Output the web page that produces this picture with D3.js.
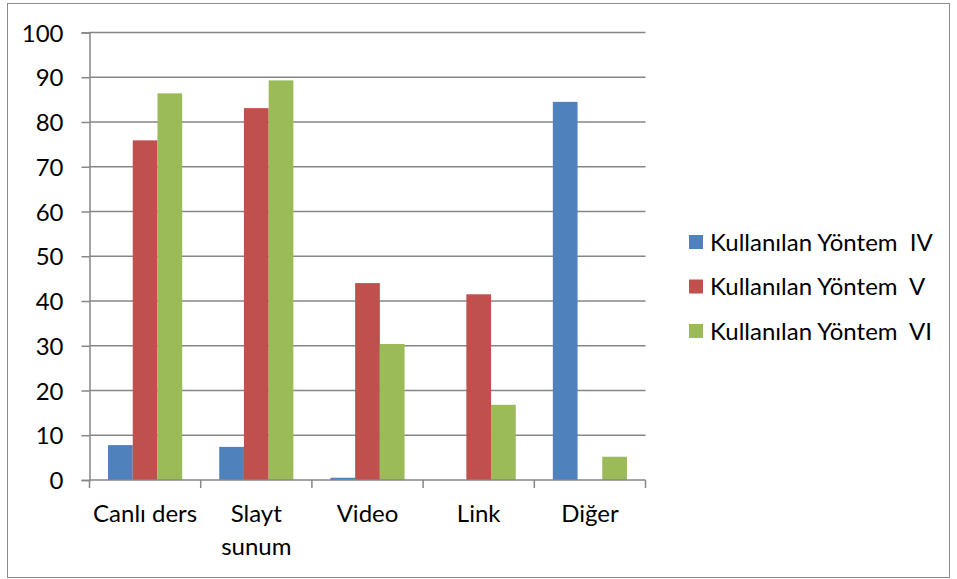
<!DOCTYPE html>
<html>
<head>
<meta charset="utf-8">
<script src="https://cdn.jsdelivr.net/npm/d3@7"></script>
<style>
  body { margin: 0; background: #fff; }
  svg text { font-family: Lato, "Open Sans", sans-serif; fill: #000; }
</style>
</head>
<body>
<script>
// Chart data
var categories = ["Canlı ders", "Slayt sunum", "Video", "Link", "Diğer"];
var seriesNames = ["Kullanılan Yöntem  IV", "Kullanılan Yöntem  V", "Kullanılan Yöntem  VI"];
var seriesIV = [7.8, 7.4, 0.5, 0, 84.5];
var seriesV = [75.9, 83.1, 44.0, 41.5, 0];
var seriesVI = [86.4, 89.3, 30.4, 16.8, 5.2];
var yTicks = [0, 10, 20, 30, 40, 50, 60, 70, 80, 90, 100];

var colors = ["#4F81BD", "#C0504D", "#9BBB59"];
var allSeries = [seriesIV, seriesV, seriesVI];
var fontSize = "24px";

// Set the dimensions of the canvas / graph
var W = 957, H = 579;
var margin = {top: 32.5, left: 89.5},
    width = 556,
    height = 447.5;

var svg = d3.select("body")
    .append("svg")
        .attr("width", W)
        .attr("height", H);

// outer chart border
svg.append("rect")
    .attr("x", 7.5)
    .attr("y", 3.5)
    .attr("width", 942)
    .attr("height", 574)
    .attr("fill", "#fff")
    .attr("stroke", "#8c8c8c")
    .attr("stroke-width", 1);

var g = svg.append("g")
    .attr("transform", "translate(" + margin.left + "," + margin.top + ")");

// Set the ranges
var x0 = d3.scaleBand().domain(categories).range([0, width]).paddingInner(0).paddingOuter(0);
var x1 = d3.scaleBand().domain([0, 1, 2]).range([0, x0.bandwidth()]).paddingInner(0).paddingOuter(0.75);
var y = d3.scaleLinear().domain([0, 100]).range([height, 0]);

// gridlines
g.selectAll(".grid")
    .data(yTicks.filter(function(d) { return d > 0; }))
    .enter().append("line")
    .attr("class", "grid")
    .attr("x1", 0)
    .attr("x2", width)
    .attr("y1", function(d) { return y(d); })
    .attr("y2", function(d) { return y(d); })
    .attr("stroke", "#868686")
    .attr("stroke-width", 1.5);

// Y axis
var yAxis = d3.axisLeft(y).tickValues(yTicks).tickSize(8).tickPadding(18);
var yG = g.append("g").call(yAxis);
yG.attr("font-size", null).attr("font-family", null);
yG.select(".domain").attr("stroke", "#868686").attr("stroke-width", 1.5);
yG.selectAll(".tick line").attr("stroke", "#868686").attr("stroke-width", 1.5);
yG.selectAll(".tick text").style("font-size", fontSize).attr("dy", "0.36em");

// bars
categories.forEach(function(cat, ci) {
    var grp = g.append("g").attr("transform", "translate(" + x0(cat) + ",0)");
    allSeries.forEach(function(s, si) {
        grp.append("rect")
            .attr("x", x1(si))
            .attr("y", y(s[ci]))
            .attr("width", x1.bandwidth())
            .attr("height", height - y(s[ci]))
            .attr("fill", colors[si]);
    });
});

// X axis
var xG = g.append("g").attr("transform", "translate(0," + height + ")");
xG.append("line")
    .attr("x1", 0).attr("x2", width)
    .attr("stroke", "#868686").attr("stroke-width", 1.5);
var bounds = categories.map(function(c) { return x0(c); }).concat([width]);
xG.selectAll(".xtick")
    .data(bounds)
    .enter().append("line")
    .attr("x1", function(d) { return d; })
    .attr("x2", function(d) { return d; })
    .attr("y1", 0).attr("y2", 8)
    .attr("stroke", "#868686").attr("stroke-width", 1.5);

categories.forEach(function(cat) {
    var lines = cat === "Slayt sunum" ? ["Slayt", "sunum"] : [cat];
    var t = xG.append("text")
        .attr("text-anchor", "middle")
        .attr("x", x0(cat) + x0.bandwidth() / 2)
        .attr("y", 41.5)
        .style("font-size", fontSize);
    lines.forEach(function(l, i) {
        t.append("tspan")
            .attr("x", x0(cat) + x0.bandwidth() / 2)
            .attr("dy", i === 0 ? 0 : 33)
            .text(l);
    });
});

// legend
var legend = svg.append("g").attr("transform", "translate(689,235)");
seriesNames.forEach(function(name, i) {
    var row = legend.append("g").attr("transform", "translate(0," + (i * 44.5) + ")");
    row.append("rect")
        .attr("width", 14).attr("height", 14)
        .attr("fill", colors[i]);
    row.append("text")
        .attr("x", 21)
        .attr("y", 15.5)
        .style("font-size", fontSize)
        .style("white-space", "pre")
        .attr("xml:space", "preserve")
        .text(name);
});
</script>
</body>
</html>
